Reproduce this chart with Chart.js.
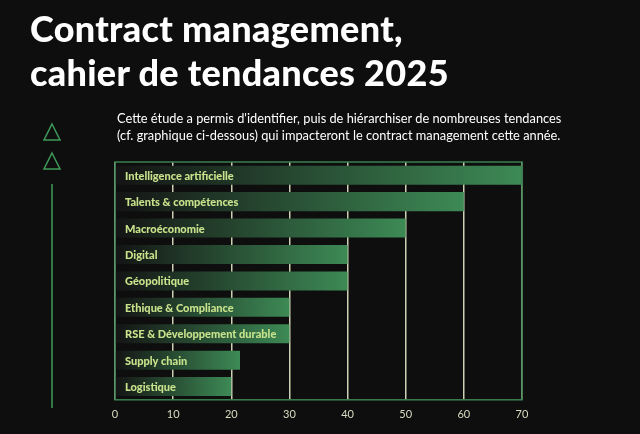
<!DOCTYPE html>
<html><head><meta charset="utf-8">
<script src="https://cdn.jsdelivr.net/npm/chart.js@4/dist/chart.umd.min.js"></script>
<style>
html,body{margin:0;background:#0e0e0e;width:640px;height:434px;overflow:hidden;font-family:Lato,"Open Sans",sans-serif;}
#c{position:absolute;left:0;top:0;}
.t{position:absolute;left:30px;top:6px;color:#fff;font:900 36px/44px Lato,sans-serif;letter-spacing:0.3px;}
.s{position:absolute;left:117px;top:110px;color:#fff;font:400 12.8px/17px Lato,sans-serif;}
</style></head><body>
<canvas id="c" width="640" height="434"></canvas>
<div class="t">Contract management,<br>cahier de tendances 2025</div>
<div class="s">Cette étude a permis d'identifier, puis de hiérarchiser de nombreuses tendances<br>(cf. graphique ci-dessous) qui impacteront le contract management cette année.</div>
<svg style="position:absolute;left:0;top:0" width="100" height="434">
<polygon points="52,124 60,140 44,140" fill="none" stroke="#3f9a5a" stroke-width="1.5"/>
<polygon points="52,153 60,169 44,169" fill="none" stroke="#3f9a5a" stroke-width="1.5"/>
<line x1="52" y1="184" x2="52" y2="408" stroke="#3f9a5a" stroke-width="1.5"/>
</svg>
<script>
const categories=["Intelligence artificielle","Talents & compétences","Macroéconomie","Digital","Géopolitique","Ethique & Compliance","RSE & Développement durable","Supply chain","Logistique"];
const values=[70,60,50,40,40,30,30,21.5,20];
const tickValues=[0,10,20,30,40,50,60,70];
const labelPlugin={id:'lbl',afterDatasetsDraw(ch){const c=ch.ctx,y=ch.scales.y,x=ch.scales.x;c.save();c.fillStyle='#c9e38c';c.font='900 11px Lato,sans-serif';c.textBaseline='middle';
categories.forEach((t,i)=>c.fillText(t,x.left+10,y.getPixelForValue(i)+1));
c.strokeStyle='#3a8050';c.lineWidth=1.5;c.strokeRect(x.left,ch.chartArea.top,x.right-x.left,ch.chartArea.bottom-ch.chartArea.top);c.restore();}};
new Chart(document.getElementById('c'),{type:'bar',
data:{labels:categories,datasets:[{data:values,barPercentage:0.72,categoryPercentage:1,
backgroundColor(ctx){const ch=ctx.chart,a=ch.chartArea;if(!a)return '#3a7a4a';const v=ctx.raw;const xs=ch.scales.x;const end=xs.getPixelForValue(v);const g=ch.ctx.createLinearGradient(a.left,0,end,0);g.addColorStop(0,'#141414');g.addColorStop(1,'#3d8a55');return g;}}]},
options:{indexAxis:'y',responsive:false,animation:false,
layout:{padding:{left:107,right:118,top:162,bottom:5}},
plugins:{legend:{display:false},tooltip:{enabled:false}},
scales:{y:{ticks:{display:false},grid:{display:false},border:{display:false}},
x:{min:0,max:70,afterBuildTicks(s){s.ticks=tickValues.map(v=>({value:v}));},
ticks:{color:'#d8dcc0',font:{size:11,family:'Lato'},padding:8},
grid:{color:'#cfcfb4',lineWidth:1.5,drawTicks:false},border:{display:false}}}},
plugins:[labelPlugin]});
</script></body></html>
